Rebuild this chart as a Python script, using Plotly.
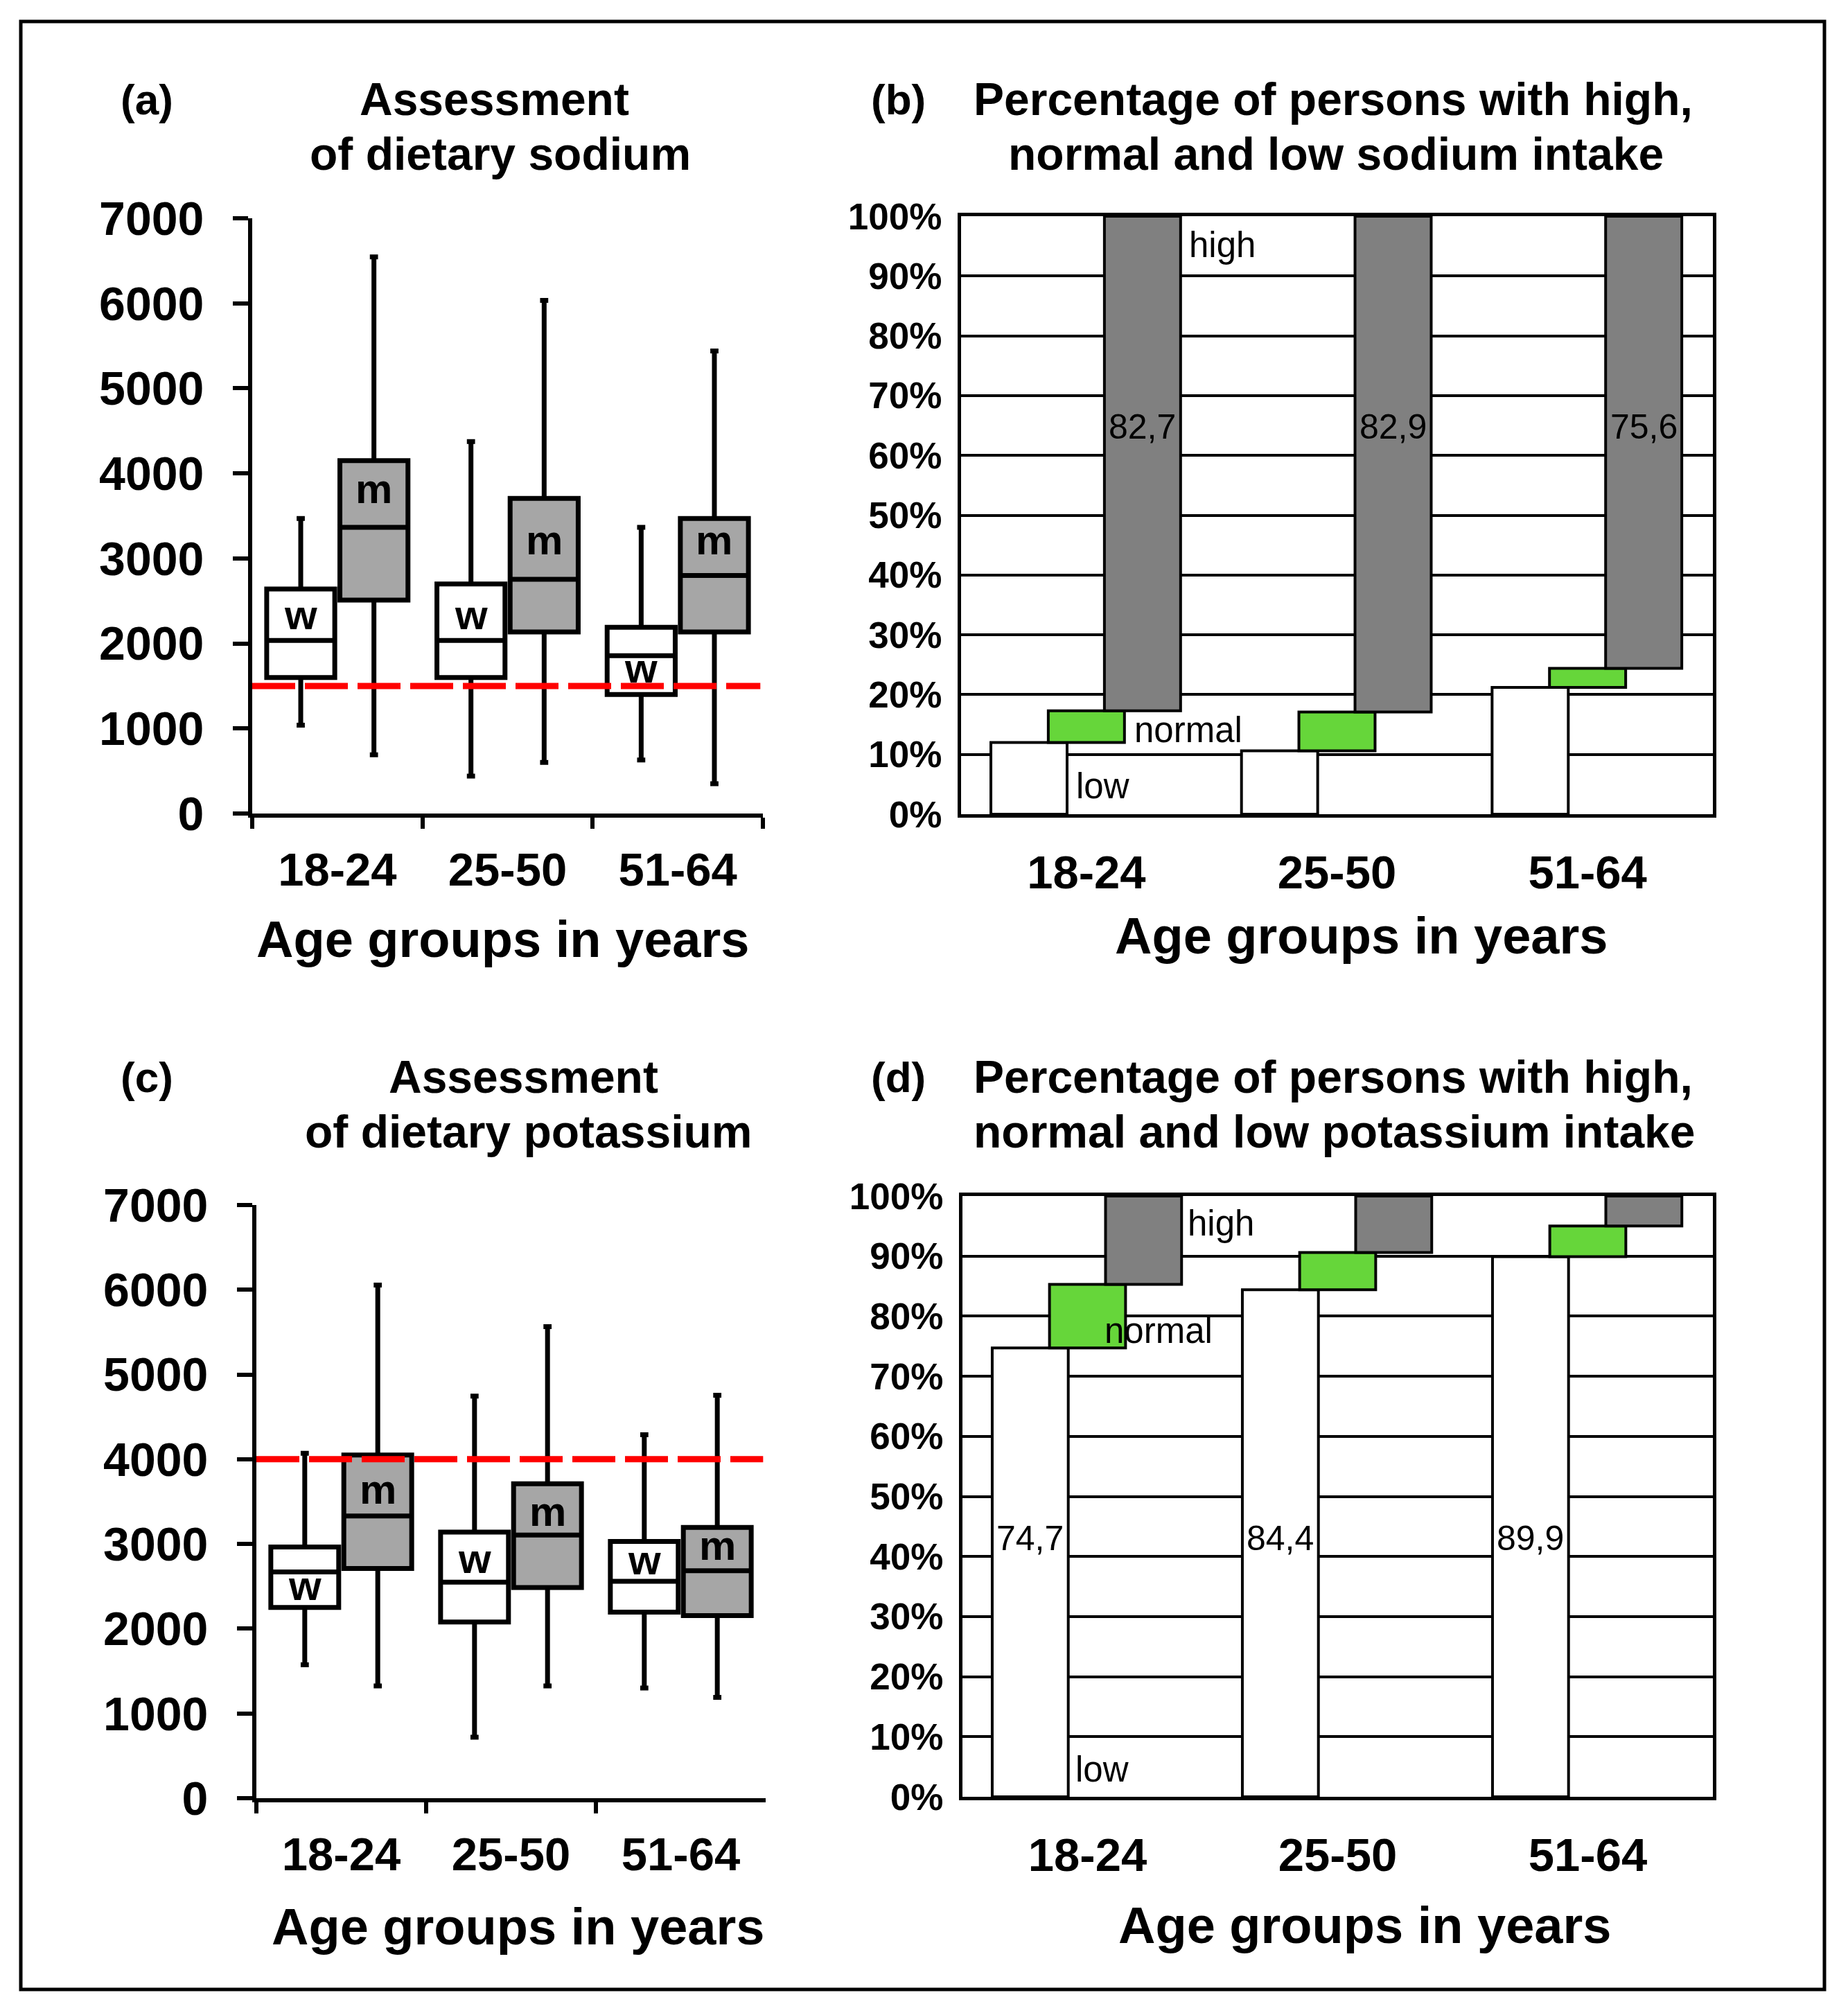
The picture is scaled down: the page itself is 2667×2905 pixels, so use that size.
import numpy as np
import plotly.graph_objects as go

W, H = 2667, 2905          # reference canvas
M = 8                      # browser body margin around the figure
FW, FH = W - 2 * M, H - 2 * M
FONT = "Liberation Sans, Arial, sans-serif"

# ---------------- data ----------------
ages = ["18-24", "25-50", "51-64"]

# (a) dietary sodium, mg/day  (women w / men m)
na_w_low = [1040, 440, 630]
na_w_q1 = [1600, 1600, 1400]
na_w_med = [2035, 2035, 1855]
na_w_q3 = [2640, 2700, 2190]
na_w_high = [3470, 4375, 3365]
na_m_low = [690, 600, 350]
na_m_q1 = [2510, 2135, 2135]
na_m_med = [3365, 2755, 2800]
na_m_q3 = [4150, 3705, 3470]
na_m_high = [6545, 6035, 5440]
na_ref = 1500

# (c) dietary potassium, mg/day
k_w_low = [1575, 720, 1300]
k_w_q1 = [2250, 2080, 2195]
k_w_med = [2670, 2550, 2560]
k_w_q3 = [2965, 3140, 3030]
k_w_high = [4070, 4745, 4290]
k_m_low = [1325, 1325, 1190]
k_m_q1 = [2710, 2485, 2155]
k_m_med = [3330, 3105, 2685]
k_m_q3 = [4050, 3710, 3195]
k_m_high = [6055, 5565, 4755]
k_ref = 4000

# (b) % persons with low / normal / high sodium intake
na_low_pct = [12.0, 10.6, 21.2]
na_normal_pct = [5.3, 6.5, 3.2]
na_high_pct = [82.7, 82.9, 75.6]

# (d) % persons with low / normal / high potassium intake
k_low_pct = [74.7, 84.4, 89.9]
k_normal_pct = [10.6, 6.2, 5.1]
k_high_pct = [14.7, 9.4, 5.0]

pct_ticks = list(range(0, 101, 10))
pct_labels = [f"{v}%" for v in pct_ticks]
mg_ticks = list(range(0, 7001, 1000))

# ---------------- helpers (reference pixels -> paper) ----------------
def px(x):
    return (x - M) / FW


def py(y):
    return 1 - (y - M) / FH


def dx(x0, x1):
    return [px(x0), px(x1)]


def dy(top, bot):
    return [py(bot), py(top)]


fig = go.Figure()

# ---------------- box plots ----------------
BOX_LINE = dict(color="black", width=7)


def add_boxes(xa, ya, wl, wq1, wmed, wq3, wh, ml, mq1, mmed, mq3, mh):
    fig.add_trace(go.Box(
        name="w", x=ages, q1=wq1, median=wmed, q3=wq3,
        lowerfence=wl, upperfence=wh, boxpoints=False,
        fillcolor="white", line=BOX_LINE, whiskerwidth=0.12,
        offsetgroup="w", alignmentgroup=xa,
        xaxis=xa, yaxis=ya, showlegend=False))
    fig.add_trace(go.Box(
        name="m", x=ages, q1=mq1, median=mmed, q3=mq3,
        lowerfence=ml, upperfence=mh, boxpoints=False,
        fillcolor="#A6A6A6", line=BOX_LINE, whiskerwidth=0.12,
        offsetgroup="m", alignmentgroup=xa,
        xaxis=xa, yaxis=ya, showlegend=False))


add_boxes("x", "y", na_w_low, na_w_q1, na_w_med, na_w_q3, na_w_high,
          na_m_low, na_m_q1, na_m_med, na_m_q3, na_m_high)
add_boxes("x3", "y3", k_w_low, k_w_q1, k_w_med, k_w_q3, k_w_high,
          k_m_low, k_m_q1, k_m_med, k_m_q3, k_m_high)

# ---------------- step bars ----------------
BAR_W = 0.304
OFFS = [-0.381, -0.152, 0.072]
COLORS = ["white", "#66D63A", "#808080"]


def add_steps(xa, ya, low, normal, high):
    low = np.array(low)
    normal = np.array(normal)
    high = np.array(high)
    bases = [np.zeros(3), low, low + normal]
    for vals, base, off, col, nm in zip([low, normal, high], bases, OFFS, COLORS,
                                        ["low", "normal", "high"]):
        fig.add_trace(go.Bar(
            name=nm, x=ages, y=vals, base=base, offset=off, width=BAR_W,
            marker=dict(color=col, line=dict(color="black", width=4)),
            xaxis=xa, yaxis=ya, showlegend=False))


add_steps("x2", "y2", na_low_pct, na_normal_pct, na_high_pct)
add_steps("x4", "y4", k_low_pct, k_normal_pct, k_high_pct)

# ---------------- axes ----------------
tick_bold = lambda s: dict(family=FONT, size=s, color="black", weight="bold")

box_x = dict(type="category", range=[-0.5, 2.5], tickson="boundaries",
             ticks="outside", ticklen=16, tickwidth=6, tickcolor="black",
             showline=True, linewidth=6, linecolor="black", showgrid=False,
             tickfont=tick_bold(67), ticklabelstandoff=18, automargin=False)
box_y = dict(range=[0, 7000], tickvals=mg_ticks, ticks="outside", ticklen=22,
             tickwidth=6, tickcolor="black", showline=True, linewidth=6,
             linecolor="black", showgrid=False, zeroline=False,
             tickfont=tick_bold(68), ticklabelstandoff=28, automargin=False)
bar_x = dict(type="category", range=[-0.5, 2.5], ticks="", showline=True,
             mirror=True, linewidth=5, linecolor="black", showgrid=False,
             tickfont=tick_bold(67), ticklabelstandoff=22, automargin=False)
bar_y = dict(range=[0, 100], tickmode="array", tickvals=pct_ticks,
             ticktext=pct_labels, ticks="",
             showline=True, mirror=True, linewidth=5, linecolor="black",
             showgrid=True, gridcolor="black", gridwidth=4, zeroline=False,
             tickfont=tick_bold(53), ticklabelstandoff=12, automargin=False)

fig.update_layout(
    xaxis=dict(box_x, domain=dx(364, 1101), anchor="y"),
    yaxis=dict(box_y, domain=dy(315, 1174), anchor="x"),
    xaxis2=dict(bar_x, domain=dx(1387, 2472), anchor="y2"),
    yaxis2=dict(bar_y, domain=dy(312, 1175), anchor="x2"),
    xaxis3=dict(box_x, domain=dx(370, 1105), anchor="y3"),
    yaxis3=dict(box_y, domain=dy(1739, 2595), anchor="x3"),
    xaxis4=dict(bar_x, domain=dx(1389, 2472), anchor="y4"),
    yaxis4=dict(bar_y, domain=dy(1726, 2593), anchor="x4"),
)

# ---------------- shapes ----------------
RED = dict(color="#FF0000", width=9, dash="62px,14px")
shapes = [
    dict(type="rect", xref="paper", yref="paper", x0=px(30), x1=px(2633),
         y0=py(2871), y1=py(31), line=dict(color="black", width=5)),
    dict(type="line", xref="x domain", yref="y", x0=0, x1=0.995, y0=na_ref,
         y1=na_ref, line=RED, layer="above"),
    dict(type="line", xref="x3 domain", yref="y3", x0=0, x1=0.995, y0=k_ref,
         y1=k_ref, line=RED, layer="above"),
]

# ---------------- annotations ----------------
ann = []


def ptext(x, y, text, size, bold=True, xanchor="center"):
    ann.append(dict(xref="paper", yref="paper", x=px(x), y=py(y), text=text,
                    showarrow=False, xanchor=xanchor, yanchor="middle",
                    font=dict(family=FONT, size=size, color="black",
                              weight="bold" if bold else "normal")))


def dtext(xa, ya, x, y, text, size, bold=False, xanchor="center", yshift=0):
    ann.append(dict(xref=xa, yref=ya, x=x, y=y, text=text, showarrow=False,
                    xanchor=xanchor, yanchor="middle", yshift=yshift,
                    font=dict(family=FONT, size=size, color="black",
                              weight="bold" if bold else "normal")))


# panel titles
ptext(212, 143, "(a)", 62)
ptext(713, 143, "Assessment", 66)
ptext(722, 222, "of dietary sodium", 66)
ptext(1296, 143, "(b)", 62)
ptext(1924, 143, "Percentage of persons with high,", 66)
ptext(1928, 222, "normal and low sodium intake", 66)
ptext(212, 1554, "(c)", 62)
ptext(755, 1554, "Assessment", 66)
ptext(762, 1633, "of dietary potassium", 66)
ptext(1296, 1554, "(d)", 62)
ptext(1924, 1554, "Percentage of persons with high,", 66)
ptext(1926, 1633, "normal and low potassium intake", 66)

# axis titles
ptext(725, 1355, "Age groups in years", 74)
ptext(1965, 1350, "Age groups in years", 74)
ptext(747, 2780, "Age groups in years", 74)
ptext(1969, 2778, "Age groups in years", 74)

# w / m labels inside boxes
W_OFF, M_OFF = -0.215, 0.215
a_w_lab_y = [2285, 2285, 1659]
a_m_lab_y = [3771, 3167, 3167]
c_w_lab_y = [2460, 2778, 2763]
c_m_lab_y = [3596, 3331, 2930]
for i in range(3):
    dtext("x", "y", i + W_OFF, a_w_lab_y[i], "w", 60, bold=True, yshift=6)
    dtext("x", "y", i + M_OFF, a_m_lab_y[i], "m", 60, bold=True, yshift=6)
    dtext("x3", "y3", i + W_OFF, c_w_lab_y[i], "w", 60, bold=True, yshift=6)
    dtext("x3", "y3", i + M_OFF, c_m_lab_y[i], "m", 60, bold=True, yshift=6)

# value labels on the dominant segments
fmt = lambda v: f"{v:.1f}".replace(".", ",")
for i in range(3):
    dtext("x2", "y2", i + OFFS[2] + BAR_W / 2, 64.8, fmt(na_high_pct[i]), 50)
    dtext("x4", "y4", i + OFFS[0] + BAR_W / 2, 43.0, fmt(k_low_pct[i]), 50)

# category labels in the step charts
dtext("x2", "y2", 0.405, 95.2, "high", 51, xanchor="left")
dtext("x2", "y2", 0.185, 14.1, "normal", 51, xanchor="left")
dtext("x2", "y2", -0.047, 4.75, "low", 51, xanchor="left")
dtext("x4", "y4", 0.394, 95.5, "high", 51, xanchor="left")
dtext("x4", "y4", 0.061, 77.6, "normal", 51, xanchor="left")
dtext("x4", "y4", -0.055, 4.6, "low", 51, xanchor="left")

fig.update_layout(
    width=FW, height=FH, autosize=False,
    margin=dict(l=0, r=0, t=0, b=0, pad=0, autoexpand=False),
    paper_bgcolor="white", plot_bgcolor="white",
    boxmode="group", boxgap=0.14, boxgroupgap=0.07,
    barmode="overlay",
    shapes=shapes, annotations=ann,
    font=dict(family=FONT, color="black"),
    showlegend=False,
)

fig.write_html("out.html")
